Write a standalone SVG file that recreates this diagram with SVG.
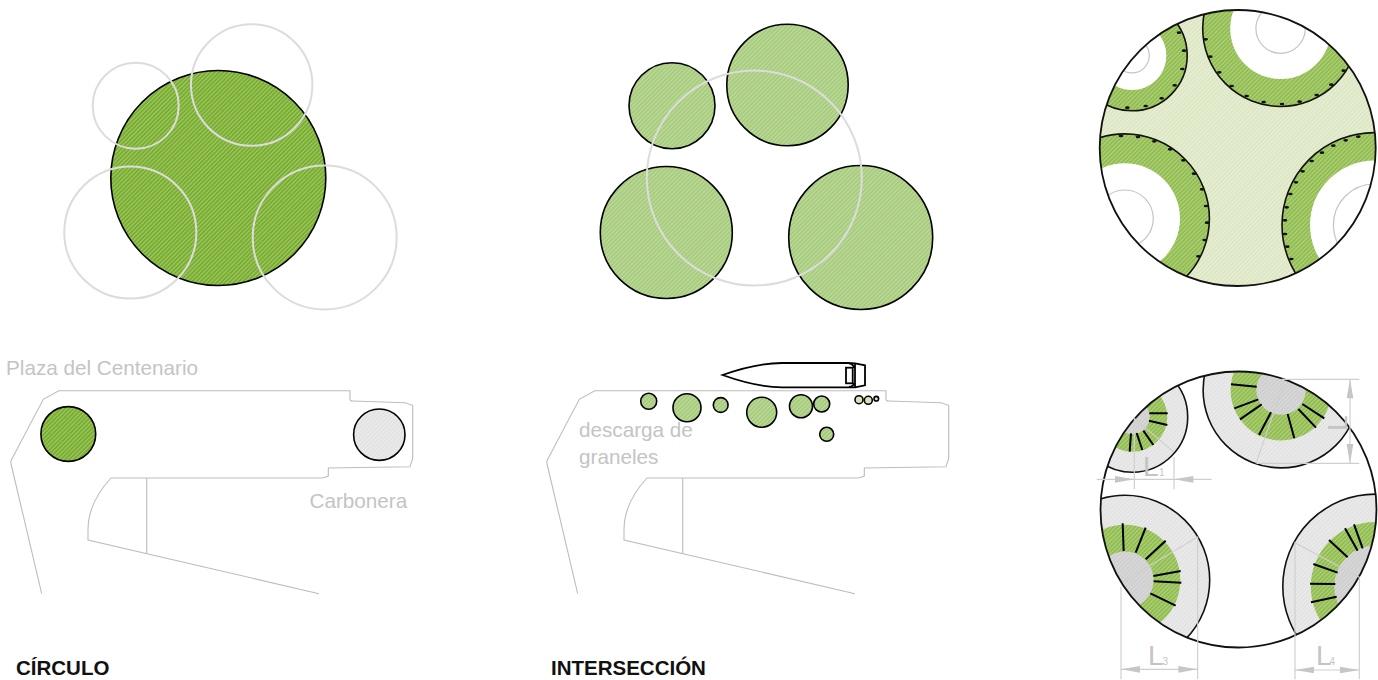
<svg xmlns="http://www.w3.org/2000/svg" xmlns:xlink="http://www.w3.org/1999/xlink" width="1378" height="680" viewBox="0 0 1378 680">
<style>
text{font-family:"Liberation Sans",Arial,sans-serif}
.lbl{font-size:20.7px;fill:#c4c4c4}
.ttl{font-size:20.5px;font-weight:bold;fill:#111}
.dl{font-size:28px;fill:#c4c4c4}
.ds{font-size:10px;fill:#c4c4c4}
.ghost{fill:none;stroke:#dcdcdc;stroke-width:2}
.blk{stroke:#000;stroke-width:1.6}
.thin{fill:none;stroke:#bdbdbd;stroke-width:1.1}
.arc{fill:none;stroke:#111;stroke-width:1.6}
.ring{fill:none;stroke:#c4c4c4;stroke-width:1.2}
.bar{stroke:#000;stroke-width:6;fill:none}
.dim{stroke:#cfcfcf;stroke-width:3.5;fill:none}
.head{fill:#c6c6c6}
.dot{fill:#111}
</style>
<defs>
<pattern id="hDark" width="3" height="7" patternUnits="userSpaceOnUse" patternTransform="rotate(45)"><rect width="3" height="7" fill="#7aae30"/><rect width="1" height="7" fill="#a2c96c"/></pattern>
<pattern id="hMid" width="3" height="7" patternUnits="userSpaceOnUse" patternTransform="rotate(45)"><rect width="3" height="7" fill="#a8cc7e"/><rect width="1" height="7" fill="#c0dba0"/></pattern>
<pattern id="hRing" width="3" height="7" patternUnits="userSpaceOnUse" patternTransform="rotate(45)"><rect width="3" height="7" fill="#92bd50"/><rect width="1" height="7" fill="#b2d283"/></pattern>
<pattern id="hPale" width="3" height="7" patternUnits="userSpaceOnUse" patternTransform="rotate(45)"><rect width="3" height="7" fill="#dde7c3"/><rect width="1" height="7" fill="#e9efd8"/></pattern>
<pattern id="hGrey" width="3" height="7" patternUnits="userSpaceOnUse" patternTransform="rotate(45)"><rect width="3" height="7" fill="#e3e3e3"/><rect width="1" height="7" fill="#ececec"/></pattern>
<pattern id="hDarkGrey" width="3" height="7" patternUnits="userSpaceOnUse" patternTransform="rotate(45)"><rect width="3" height="7" fill="#cfcfcf"/><rect width="1" height="7" fill="#dadada"/></pattern>
<clipPath id="cp3"><circle cx="1237.7" cy="148" r="138"/></clipPath>
<clipPath id="cp4"><circle cx="1238.5" cy="509.5" r="138"/></clipPath>
<path id="plan" d="M41.7 593.7L11.3 465Q10.5 462 11.3 460L43.3 399.3L58.7 390.7H350V399Q350 401 352.7 401L405 402.7L412.7 405.3V458.3L410 466.7L328.3 468V476L322.7 478H111Q88 503 88 530V540L319 593.7M146.7 478V553.5"/>
</defs>

<g id="panel-circulo">
<circle cx="218.3" cy="178" r="107.5" fill="url(#hDark)" class="blk"/>
<circle cx="135.7" cy="105.7" r="43" class="ghost"/>
<circle cx="251.7" cy="85" r="60.7" class="ghost"/>
<circle cx="130.3" cy="232.5" r="66" class="ghost"/>
<circle cx="324.7" cy="237.5" r="72" class="ghost"/>
</g>

<g id="panel-interseccion">
<circle cx="672" cy="105.7" r="43" fill="url(#hMid)" class="blk"/>
<circle cx="787.5" cy="85" r="60.7" fill="url(#hMid)" class="blk"/>
<circle cx="666.3" cy="232.5" r="66" fill="url(#hMid)" class="blk"/>
<circle cx="860.7" cy="237.5" r="72" fill="url(#hMid)" class="blk"/>
<circle cx="754.3" cy="178" r="107.5" class="ghost"/>
</g>

<g id="panel-resultado">
<circle cx="1237.7" cy="148" r="138" fill="url(#hPale)"/>
<g clip-path="url(#cp3)">
<circle cx="1132" cy="55.6" r="55.2" fill="url(#hRing)"/>
<circle cx="1280.6" cy="28.6" r="77.9" fill="url(#hRing)"/>
<circle cx="1124.7" cy="218.6" r="84.7" fill="url(#hRing)"/>
<circle cx="1374.4" cy="225" r="92.4" fill="url(#hRing)"/>
<circle cx="1132" cy="55.6" r="34.4" fill="#fff"/>
<circle cx="1280.6" cy="28.6" r="50.4" fill="#fff"/>
<circle cx="1124.7" cy="218.6" r="55.3" fill="#fff"/>
<circle cx="1374.4" cy="225" r="64.4" fill="#fff"/>
<circle cx="1132" cy="55.6" r="17.3" class="ring"/>
<circle cx="1280.6" cy="28.6" r="24.7" class="ring"/>
<circle cx="1124.7" cy="218.6" r="28.6" class="ring"/>
<circle cx="1374.4" cy="225" r="41" class="ring"/>
<circle cx="1132" cy="55.6" r="55.2" class="arc"/>
<circle cx="1280.6" cy="28.6" r="77.9" class="arc"/>
<circle cx="1124.7" cy="218.6" r="84.7" class="arc"/>
<circle cx="1374.4" cy="225" r="92.4" class="arc"/>
</g>
<circle cx="1237.7" cy="148" r="138" fill="none" stroke="#111" stroke-width="1.8"/>
<g transform="translate(1090 0) scale(.33333)" class="dot">
<ellipse cx="267" cy="98" rx="7" ry="4"/><ellipse cx="282" cy="152" rx="7" ry="4"/><ellipse cx="277" cy="207" rx="7" ry="4"/><ellipse cx="254" cy="256" rx="7" ry="4"/><ellipse cx="215" cy="295" rx="7" ry="4"/><ellipse cx="167" cy="318" rx="7" ry="4"/><ellipse cx="112" cy="323" rx="7" ry="4"/>
<ellipse cx="347" cy="118" rx="7" ry="4"/><ellipse cx="361" cy="170" rx="7" ry="4"/><ellipse cx="388" cy="217" rx="7" ry="4"/><ellipse cx="425" cy="258" rx="7" ry="4"/><ellipse cx="470" cy="288" rx="7" ry="4"/><ellipse cx="521" cy="306" rx="7" ry="4"/><ellipse cx="576" cy="312" rx="7" ry="4"/><ellipse cx="629" cy="305" rx="7" ry="4"/><ellipse cx="680" cy="285" rx="7" ry="4"/><ellipse cx="724" cy="254" rx="7" ry="4"/><ellipse cx="761" cy="212" rx="7" ry="4"/>
<ellipse cx="93" cy="408" rx="7" ry="4"/><ellipse cx="144" cy="411" rx="7" ry="4"/><ellipse cx="193" cy="424" rx="7" ry="4"/><ellipse cx="240" cy="448" rx="7" ry="4"/><ellipse cx="280" cy="481" rx="7" ry="4"/><ellipse cx="312" cy="521" rx="7" ry="4"/><ellipse cx="336" cy="568" rx="7" ry="4"/><ellipse cx="348" cy="618" rx="7" ry="4"/><ellipse cx="351" cy="668" rx="7" ry="4"/><ellipse cx="344" cy="720" rx="7" ry="4"/><ellipse cx="325" cy="769" rx="7" ry="4"/>
<ellipse cx="805" cy="410" rx="7" ry="4"/><ellipse cx="767" cy="421" rx="7" ry="4"/><ellipse cx="730" cy="437" rx="7" ry="4"/><ellipse cx="696" cy="458" rx="7" ry="4"/><ellipse cx="665" cy="483" rx="7" ry="4"/><ellipse cx="638" cy="514" rx="7" ry="4"/><ellipse cx="618" cy="547" rx="7" ry="4"/><ellipse cx="601" cy="582" rx="7" ry="4"/><ellipse cx="590" cy="622" rx="7" ry="4"/><ellipse cx="585" cy="661" rx="7" ry="4"/><ellipse cx="585" cy="702" rx="7" ry="4"/><ellipse cx="592" cy="740" rx="7" ry="4"/><ellipse cx="604" cy="777" rx="7" ry="4"/>
</g>
</g>

<g id="plan-circulo">
<use xlink:href="#plan" href="#plan" class="thin"/>
<circle cx="68.3" cy="434" r="27.4" fill="url(#hDark)" class="blk"/>
<circle cx="379.3" cy="434.7" r="25.7" fill="url(#hGrey)" class="blk"/>
<text x="6" y="375" class="lbl">Plaza del Centenario</text>
<text x="309.5" y="508" class="lbl">Carbonera</text>
<text x="16" y="675" class="ttl">CÍRCULO</text>
</g>

<g id="plan-interseccion">
<use xlink:href="#plan" href="#plan" x="536" class="thin"/>
<g fill="url(#hMid)" class="blk">
<circle cx="648.7" cy="401.3" r="8"/>
<circle cx="687" cy="407.7" r="14"/>
<circle cx="720.7" cy="405" r="7.4"/>
<circle cx="761.7" cy="412.3" r="15"/>
<circle cx="801" cy="406.3" r="11.5"/>
<circle cx="821.7" cy="404" r="8"/>
<circle cx="826.7" cy="434.3" r="7"/>
<circle cx="859" cy="399.7" r="4" fill="#d6e4bc"/>
<circle cx="868.3" cy="400.3" r="4" fill="#d6e4bc"/>
<circle cx="876.3" cy="398.7" r="2.3" fill="#d6e4bc"/>
</g>
<g id="barco" fill="none" stroke="#000" stroke-width="1.8">
<path d="M722.5 375C745 367 762 363 782 363H848L855 363.3L865 365.3V385.3L855 387.3H782C762 387.3 745 383 722.5 375Z" fill="#fff"/>
<path d="M855 363.3V387.3"/>
<path d="M849 363.3C852 364 854 366 854 368M849 387C852 386.5 854 385 854 383"/>
<rect x="846" y="367.7" width="6.7" height="15.6" fill="#fff"/>
</g>
<text x="579" y="437" class="lbl">descarga de</text>
<text x="579" y="464" class="lbl">graneles</text>
<text x="551" y="675" class="ttl">INTERSECCIÓN</text>
</g>

<g id="panel-medidas">
<g clip-path="url(#cp4)">
<circle cx="1132.5" cy="417" r="55.2" fill="url(#hGrey)"/>
<circle cx="1281" cy="390" r="77.9" fill="url(#hGrey)"/>
<circle cx="1125" cy="580" r="84.7" fill="url(#hGrey)"/>
<circle cx="1375.2" cy="586.5" r="92.4" fill="url(#hGrey)"/>
<circle cx="1132.5" cy="417" r="34.8" fill="url(#hRing)"/>
<circle cx="1281" cy="390" r="50.4" fill="url(#hRing)"/>
<circle cx="1125" cy="580" r="55.3" fill="url(#hRing)"/>
<circle cx="1375.2" cy="586.5" r="64.4" fill="url(#hRing)"/>
<circle cx="1132.5" cy="417" r="17.3" fill="url(#hDarkGrey)"/>
<circle cx="1281" cy="390" r="24.7" fill="url(#hDarkGrey)"/>
<circle cx="1125" cy="580" r="28.6" fill="url(#hDarkGrey)"/>
<circle cx="1375.2" cy="586.5" r="41" fill="url(#hDarkGrey)"/>
<circle cx="1132.5" cy="417" r="55.2" class="arc"/>
<circle cx="1281" cy="390" r="77.9" class="arc"/>
<circle cx="1125" cy="580" r="84.7" class="arc"/>
<circle cx="1375.2" cy="586.5" r="92.4" class="arc"/>
</g>
<circle cx="1238.5" cy="509.5" r="138" fill="none" stroke="#111" stroke-width="1.8"/>
<g transform="translate(1090 360) scale(.33333)">
<path class="bar" d="M178 160H233M177 182L232 195M160 212L190 255M140 219L157 270M123 220L119 275"/>
<path class="bar" d="M423 73L500 80M433 145L505 118M450 178L515 133M507 225L543 157M613 235L593 162M678 203L625 147M703 175L637 132"/>
<path class="bar" d="M98 490L101 573M167 503L137 578M227 542L167 598M272 633L190 648M274 668L191 664M257 737L181 700"/>
<path class="bar" d="M717 540L773 592M765 505L803 572M792 493L818 565M670 612L743 638M660 671L736 672M663 727L740 710"/>
<path class="dim" d="M20 358H365M133 175V388M252 292V388M133 175L250 275"/>
<path class="head" d="M75 348L133 358L75 368ZM310 348L252 358L310 368Z"/>
<path class="dim" d="M575 58H808M500 310H808M780 58V310M580 75L498 310"/>
<path class="head" d="M770 115L780 58L790 115ZM770 252L780 312L790 252Z"/>
<path class="dim" d="M93 680V958M323 530V958M93 928H323M100 665L323 530"/>
<path class="head" d="M150 918L93 928L150 938ZM265 918L323 928L265 938Z"/>
<path class="dim" d="M615 545V958M808 650V958M615 930H808M615 548L808 652"/>
<path class="head" d="M672 920L615 930L672 940ZM750 920L808 930L750 940Z"/>
</g>
<text x="1143" y="476" class="dl">L</text><text x="1159" y="476" class="ds">1</text>
<text transform="translate(1346.5 431) rotate(-90)" class="dl">L</text>
<text x="1148" y="665" class="dl">L</text><text x="1162.5" y="665" class="ds">3</text>
<text x="1316" y="665" class="dl">L</text><text x="1329.5" y="665" class="ds">4</text>
</g>
</svg>
